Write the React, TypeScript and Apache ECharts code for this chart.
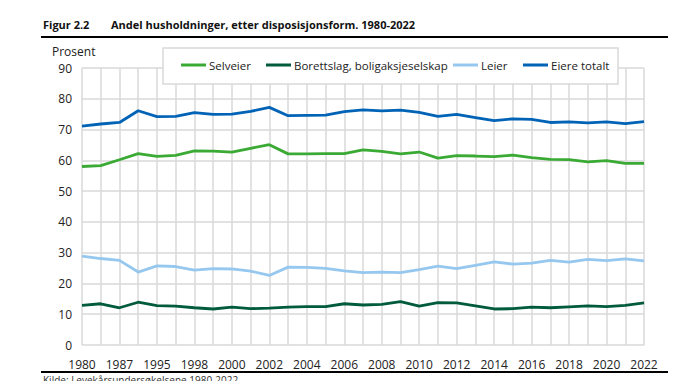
import React, { useEffect, useRef } from "react";
import * as echarts from "echarts";

const years = ["1980","1983","1987","1991","1995","1997","1998","1999","2000","2001","2002","2003","2004","2005","2006","2007","2008","2009","2010","2011","2012","2013","2014","2015","2016","2017","2018","2019","2020","2021","2022"];
const selveier = [58.0,58.3,60.2,62.2,61.3,61.6,63.1,63.0,62.7,63.9,65.1,62.1,62.1,62.2,62.2,63.4,62.9,62.1,62.7,60.7,61.5,61.4,61.2,61.7,60.9,60.3,60.2,59.5,59.9,59.0,59.0];
const borettslag = [12.9,13.4,12.1,13.9,12.8,12.6,12.1,11.7,12.3,11.8,12.0,12.3,12.5,12.5,13.4,13.0,13.2,14.1,12.6,13.8,13.7,12.7,11.7,11.8,12.3,12.1,12.4,12.7,12.5,12.9,13.7];
const leier = [28.9,28.1,27.5,23.7,25.7,25.5,24.3,24.8,24.7,24.0,22.6,25.3,25.2,24.9,24.1,23.5,23.7,23.5,24.5,25.6,24.8,25.9,27.0,26.3,26.6,27.5,26.9,27.8,27.4,28.0,27.3];
const eiere = [71.1,71.8,72.3,76.1,74.2,74.3,75.5,74.9,75.0,75.9,77.2,74.5,74.6,74.7,75.8,76.4,76.1,76.3,75.6,74.3,74.9,73.9,72.9,73.5,73.3,72.3,72.5,72.2,72.5,71.9,72.6];

const seriesNames = ["Selveier", "Borettslag, boligaksjeselskap", "Leier", "Eiere totalt"];
const seriesColors = ["#3aaa35", "#005a3c", "#96c8ef", "#0063b6"];
const legendLefts = [181, 266, 453, 523];

const FONT = "'Open Sans', 'Noto Sans', sans-serif";

export default function App() {
  const ref = useRef<HTMLDivElement>(null);
  useEffect(() => {
    if (!ref.current) return;
    const chart = echarts.init(ref.current, null, { renderer: "svg" });
    const values = [selveier, borettslag, leier, eiere];
    const series = seriesNames.map((name, i) => ({
      name,
      type: "line",
      data: values[i],
      showSymbol: false,
      symbol: "none",
      lineStyle: { color: seriesColors[i], width: 2.8 },
      itemStyle: { color: seriesColors[i] },
    }));
    const legends = seriesNames.map((name, i) => ({
      left: legendLefts[i],
      top: 59,
      padding: 0,
      z: 6,
      icon: "rect",
      itemWidth: 25,
      itemHeight: 3,
      textStyle: { fontFamily: FONT, fontSize: 11.5, color: "#222", padding: [0, 0, 0, -2] },
      data: [name],
    }));
    chart.setOption({
      animation: false,
      backgroundColor: "#fff",
      textStyle: { fontFamily: FONT },
      grid: { left: 82, right: 42, top: 68, bottom: 36, containLabel: false },
      legend: legends,
      xAxis: {
        type: "category",
        data: years,
        boundaryGap: false,
        axisLine: { show: false },
        axisTick: { show: false },
        axisLabel: { interval: 1, fontFamily: FONT, fontSize: 12, color: "#222", margin: 13 },
        splitLine: { show: true, interval: 0, lineStyle: { color: "#d9d9d9", width: 1.5 } },
      },
      yAxis: {
        type: "value",
        min: 0,
        max: 90,
        interval: 10,
        axisLine: { show: false },
        axisTick: { show: false },
        axisLabel: { fontFamily: FONT, fontSize: 12, color: "#222", margin: 10 },
        splitLine: { show: true, lineStyle: { color: "#d9d9d9", width: 1.5 } },
      },
      graphic: [
        { type: "text", left: 43, top: 19, style: { text: "Figur 2.2", font: `bold 11px ${FONT}`, fill: "#111" } },
        { type: "text", left: 111, top: 19, style: { text: "Andel husholdninger, etter disposisjonsform. 1980-2022", font: `bold 11px ${FONT}`, fill: "#111" } },
        { type: "rect", shape: { x: 41, y: 36, width: 627, height: 2 }, style: { fill: "#000" } },
        { type: "text", left: 52, top: 45, style: { text: "Prosent", font: `12px ${FONT}`, fill: "#222" } },
        { type: "rect", z: 5, shape: { x: 163, y: 48, width: 455, height: 36 }, style: { fill: "#fff", stroke: "#d9d9d9", lineWidth: 1.5 } },
        { type: "rect", shape: { x: 41, y: 371, width: 627, height: 2 }, style: { fill: "#000" } },
        { type: "text", left: 43, top: 375, style: { text: "Kilde: Levekårsundersøkelsene 1980-2022", font: `10px ${FONT}`, fill: "#333" } },
      ],
      series,
    });
    return () => chart.dispose();
  }, []);
  return <div ref={ref} style={{ position: "fixed", left: 0, top: 0, width: 686, height: 381 }} />;
}
